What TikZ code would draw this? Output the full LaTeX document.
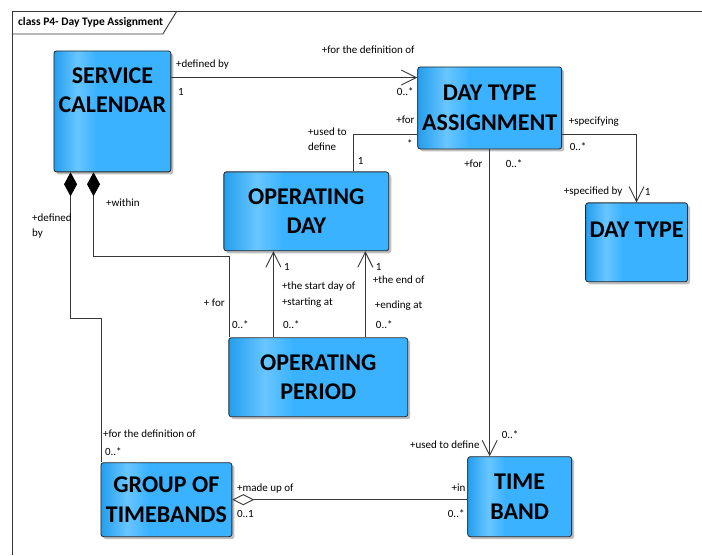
\documentclass[tikz,border=0pt]{standalone}
\usepackage{fontspec}
\setmainfont{Carlito}
\usetikzlibrary{arrows.meta,shadows}
\definecolor{boxdark}{RGB}{36,158,238}
\definecolor{boxlight}{RGB}{104,198,255}
\definecolor{boxmid}{RGB}{58,178,255}
\definecolor{boxline}{RGB}{40,40,40}
\definecolor{wire}{RGB}{55,55,55}
\pgfdeclarehorizontalshading{classshade}{100bp}{color(0bp)=(boxdark); color(25bp)=(boxdark); color(35bp)=(boxlight); color(43bp)=(boxmid); color(100bp)=(boxmid)}
\begin{document}
\begin{tikzpicture}[x=1pt, y=-1pt,
        classbox/.style={draw=boxline, line width=0.8pt, rounded corners=2.5pt, shade, shading=classshade,
            drop shadow={shadow xshift=2.5pt, shadow yshift=-2.5pt, opacity=0.25, fill=black},
            inner sep=0pt, align=center, font=\fontsize{24}{29.5}\selectfont\bfseries},
        classtext/.style={inner sep=0pt, align=center, font=\fontsize{24}{29.5}\selectfont\bfseries},
        role/.style={inner sep=0pt, align=left, font=\fontsize{11}{15}\selectfont},
        link/.style={draw=wire, line width=0.9pt},
        assoc/.style={link, -{Straight Barb[length=15pt, width=15pt]}},
        comp/.style={link, {Diamond[length=24pt, width=13pt, color=black, fill=black]}-},
        aggr/.style={link, {Diamond[length=22pt, width=11pt, fill=white]}-}]
    \fill[white] (0,0) rectangle (702,555);

    % frame
    \draw[link] (12,555) -- (12,11) -- (702,11);
    \draw[link] (12,34) -- (163,34) -- (177,11);
    \node[anchor=west, inner sep=0pt, font=\fontsize{11.5}{13}\selectfont\bfseries] (TITLE) at (18,22.5) {class P4- Day Type Assignment};

    % classes
    \node[classbox, minimum width=117pt, minimum height=121pt, label={[classtext, yshift=21pt]center:{SERVICE\\CALENDAR}}] (SC) at (112.5,111.5) {};
    \node[classbox, minimum width=144pt, minimum height=82pt] (DTA) at (490,108) {DAY TYPE\\ASSIGNMENT};
    \node[classbox, minimum width=102pt, minimum height=79pt, label={[classtext, yshift=12.5pt]center:{DAY TYPE}}] (DT) at (637,242.5) {};
    \node[classbox, minimum width=165pt, minimum height=79pt] (OD) at (306.5,211.5) {OPERATING\\DAY};
    \node[classbox, minimum width=179pt, minimum height=79pt] (OP) at (318.5,377.5) {OPERATING\\PERIOD};
    \node[classbox, minimum width=131pt, minimum height=74pt] (GT) at (166.5,500) {GROUP OF\\TIMEBANDS};
    \node[classbox, minimum width=104pt, minimum height=80pt] (TB) at (520,497) {TIME\\BAND};

    % connectors
    \coordinate (SCout) at ([yshift=-27pt]SC.north east);
    \coordinate (DTAfor) at ([yshift=15pt]DTA.south west);
    \coordinate (DTAspec) at ([yshift=15pt]DTA.south east);
    \coordinate (OPstart) at ([xshift=45pt]OP.north west);
    \coordinate (OPend) at ([xshift=137pt]OP.north west);

    \draw[assoc] (SCout) -- (SCout -| DTA.west);
    \draw[link] (DTAfor) -| ([xshift=-36pt]OD.north east);
    \draw[assoc] (DTA.south) -- (DTA.south |- TB.north);
    \draw[assoc] (DTAspec) -| (DT.north);
    \draw[comp] ([xshift=17pt]SC.south west) -- ++(0,146) -| ([xshift=1pt]GT.north west);
    \draw[comp] ([xshift=40pt]SC.south west) -- ++(0,84) -| ([xshift=1pt]OP.north west);
    \draw[assoc] (OPstart) -- (OPstart |- OD.south);
    \draw[assoc] (OPend) -- (OPend |- OD.south);
    \draw[aggr] (GT.east) -- (GT.east -| TB.west);

    % role names and multiplicities
    \node[role, anchor=west] (R1) at (176,65) {+defined by};
    \node[role, anchor=west] (R2) at (178,92) {1};
    \node[role, anchor=east] (R3) at (415,50) {+for the definition of};
    \node[role, anchor=east] (R4) at (414,92) {0..*};
    \node[role, anchor=east] (R5) at (415,120) {+for};
    \node[role, anchor=east] (R6) at (413,144) {*};
    \node[role, anchor=west] (R7) at (308,139.5) {+used to\\define};
    \node[role, anchor=west] (R8) at (358,161) {1};
    \node[role, anchor=east] (R9) at (483,164) {+for};
    \node[role, anchor=west] (R10) at (506,164) {0..*};
    \node[role, anchor=west] (R11) at (569,122) {+specifying};
    \node[role, anchor=west] (R12) at (570,147) {0..*};
    \node[role, anchor=east] (R13) at (623,192) {+specified by};
    \node[role, anchor=west] (R14) at (645,192) {1};
    \node[role, anchor=west] (R15) at (32,226.5) {+defined\\by};
    \node[role, anchor=west] (R16) at (106,203) {+within};
    \node[role, anchor=east] (R17) at (225,303) {+ for};
    \node[role, anchor=west] (R18) at (232,325) {0..*};
    \node[role, anchor=west] (R19) at (284,267) {1};
    \node[role, anchor=west] (R20) at (282,287) {+the start day of};
    \node[role, anchor=west] (R21) at (282,303) {+starting at};
    \node[role, anchor=west] (R22) at (283,325) {0..*};
    \node[role, anchor=west] (R23) at (376,267) {1};
    \node[role, anchor=west] (R24) at (373,280) {+the end of};
    \node[role, anchor=west] (R25) at (375,306) {+ending at};
    \node[role, anchor=west] (R26) at (376,325) {0..*};
    \node[role, anchor=west] (R27) at (103,434) {+for the definition of};
    \node[role, anchor=west] (R28) at (105,452) {0..*};
    \node[role, anchor=west] (R29) at (237,489) {+made up of};
    \node[role, anchor=west] (R30) at (237,514) {0..1};
    \node[role, anchor=east] (R31) at (466,488) {+in};
    \node[role, anchor=east] (R32) at (465,514) {0..*};
    \node[role, anchor=east] (R33) at (480,445) {+used to define};
    \node[role, anchor=west] (R34) at (502,435) {0..*};
\end{tikzpicture}
\end{document}
